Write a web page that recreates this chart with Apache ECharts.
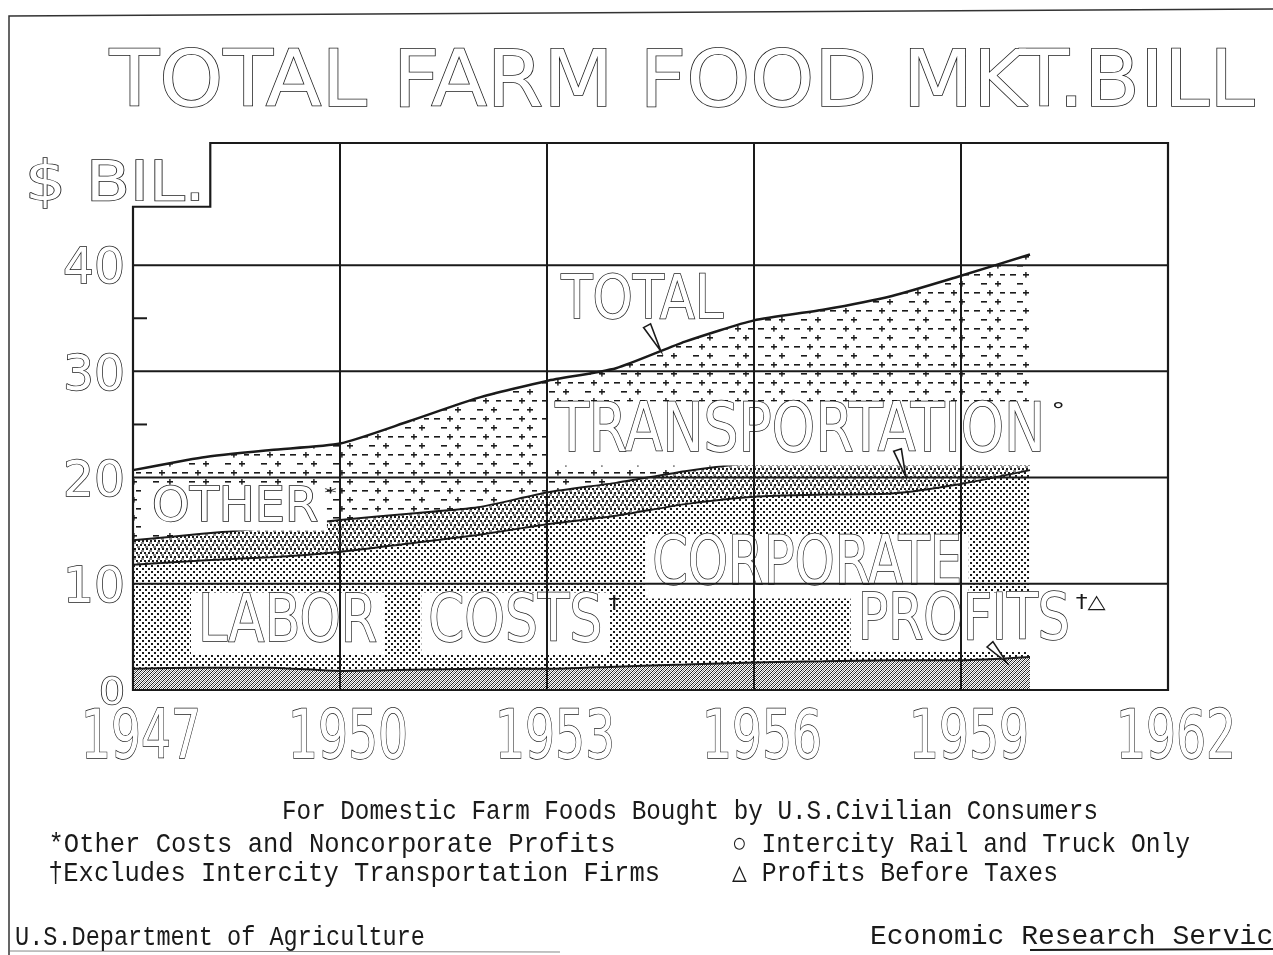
<!DOCTYPE html>
<html><head><meta charset="utf-8">
<script src="https://cdn.jsdelivr.net/npm/echarts@6/dist/echarts.min.js"></script>
<style>html,body{margin:0;padding:0;background:#fff;overflow:hidden}#c{width:1273px;height:955px}</style>
</head><body><div id="c"></div>
<script>
// ---- data (US$ billions) ----
const years     = [1947,1948,1949,1950,1951,1952,1953,1954,1955,1956,1957,1958,1959,1960];
const profits   = [2.0,2.1,2.1,1.8,1.9,2.0,2.0,2.2,2.4,2.6,2.7,2.8,2.8,3.1];
const labor     = [9.8,10.1,10.4,11.2,11.9,12.6,13.6,14.2,15.1,15.6,15.7,15.7,16.6,17.6];
const transport = [2.3,2.5,2.8,3.0,2.8,2.6,3.0,3.1,3.1,3.2,3.4,3.5,3.6,3.3];
const other     = [6.6,7.2,7.3,7.2,8.7,10.3,10.5,10.8,12.2,13.4,14.0,15.1,16.0,17.0];
const xTicks    = [1947,1950,1953,1956,1959,1962];
const yTicks    = [0,10,20,30,40];
const yMinorTicks = [25,35];
const Y_MAX = 51.5;

const NARROW = "'Liberation Sans Narrow','DejaVu Sans Condensed','Liberation Sans',sans-serif";
const MONO = "'Liberation Mono','DejaVu Sans Mono',monospace";
const INK = '#1a1a1a';

// axis categories: every year from first to last tick
const cats = [];
for (let y = xTicks[0]; y <= xTicks[xTicks.length-1]; y++) cats.push(String(y));
const onCats = vals => cats.map(c => { const i = years.indexOf(+c); return i < 0 ? null : vals[i]; });

function pattern(w,h,draw){const c=document.createElement('canvas');c.width=w;c.height=h;const g=c.getContext('2d');g.fillStyle=INK;draw(g);return {image:c,repeat:'repeat'};}
const patProfits = pattern(4,4,g=>{for(let i=0;i<4;i++){g.fillRect(i,3-i,1,1);} g.fillStyle='rgba(0,0,0,0.45)';for(let i=0;i<4;i++){g.fillRect(i,(5-i)%4,1,1);} });
const patLabor = pattern(6,6,g=>{g.fillRect(1,1,2,2);g.fillRect(4,4,2,2);});
const patTransport = pattern(8,8,g=>{g.fillRect(0,0,2,2);g.fillRect(4,0,2,2);g.fillRect(2,4,2,2);g.fillRect(6,4,2,2);g.fillRect(1,2.5,3,1);g.fillRect(5,6.5,3,1);});
const patOther = pattern(36,18,g=>{g.fillRect(2,4,6,1.6);g.fillRect(15,4,6,1.6);g.fillRect(17.2,2,1.4,5.6);g.fillRect(28,4,5,1.6);g.fillRect(9,13,6,1.6);g.fillRect(23,13,6,1.6);g.fillRect(25.2,11,1.4,5.6);});

function areaSeries(name, vals, pat, lw){
  return {name,type:'line',stack:'bill',data:onCats(vals),symbol:'none',smooth:0.2,connectNulls:false,
    lineStyle:{color:INK,width:lw},areaStyle:{color:pat,opacity:1},z:2,silent:true};
}
const chart = echarts.init(document.getElementById('c'),null,{renderer:'canvas'});
chart.setOption({
  backgroundColor:'#fff', animation:false,
  grid:{left:133,right:105,top:143,bottom:265,containLabel:false,outerBoundsMode:'none'},
  xAxis:{type:'category',data:cats,boundaryGap:false,
    axisLine:{show:false},axisTick:{show:false},axisLabel:{show:false},splitLine:{show:false}},
  yAxis:{type:'value',min:0,max:Y_MAX,interval:10,
    axisLine:{show:false},axisTick:{show:false},axisLabel:{show:false},splitLine:{show:false}},
  series:[
    areaSeries('Corporate profits',profits,patProfits,2),
    areaSeries('Labor costs',labor,patLabor,2),
    areaSeries('Transportation',transport,patTransport,2),
    areaSeries('Other',other,patOther,2.5)
  ]
});

// pixel helpers through the chart's own scales
const P0 = chart.convertToPixel({gridIndex:0},[cats[0],0]);
const P1 = chart.convertToPixel({gridIndex:0},[cats[cats.length-1],Y_MAX]);
const xa=xTicks[0], xb=xTicks[xTicks.length-1];
const xpx = yr => P0[0] + (yr - xa)/(xb-xa)*(P1[0]-P0[0]);
const ypx = v => chart.convertToPixel({yAxisIndex:0},v);
const px = (x,y)=>[xpx(x),ypx(y)];

const mc=document.createElement('canvas').getContext('2d');
function txt(str,cx,cy,w,capH,o={}){
  const fs=capH/(o.capRatio||0.79);
  const font=`${fs.toFixed(1)}px ${o.family||NARROW}`;
  mc.font=font;
  const mw=mc.measureText(str).width;
  const s=w?w/mw:1;
  const dy = o.noShift?0:0.13*capH;
  const st={text:str,font,fill:o.fill||'#fff',stroke:o.stroke===undefined?INK:o.stroke,lineWidth:o.lw||1.5,strokeNoScale:true,
    textAlign:'center',textVerticalAlign:'middle',align:'center',verticalAlign:'middle'};
  if(o.bg){const m=o.m||dy; st.backgroundColor=o.bg; st.lineHeight=capH; st.padding=[dy+m,o.padX||8,Math.max(0,m-dy),o.padX||8];}
  return {type:'text',x:cx,y:cy+dy,scaleX:s,scaleY:1,z:o.z||5,silent:true,style:st};
}
const G=[];
// page border
G.push({type:'polyline',z:30,silent:true,shape:{points:[[9,955],[9,16],[1273,9]]},style:{stroke:'#333',lineWidth:1.5,fill:null}});
G.push({type:'line',z:30,silent:true,shape:{x1:10,y1:951,x2:560,y2:952},style:{stroke:'#888',lineWidth:1}});
G.push({type:'line',z:30,silent:true,shape:{x1:1030,y1:950,x2:1273,y2:949},style:{stroke:INK,lineWidth:2}});
// grid lines at the tick values (drawn above the labels, as in the original)
yTicks.slice(1).forEach(v=>{const a=px(xa,v),b=px(xb,v);G.push({type:'line',z:8,silent:true,shape:{x1:a[0],y1:a[1],x2:b[0],y2:b[1]},style:{stroke:INK,lineWidth:2}});});
xTicks.slice(1,-1).forEach(t=>{const a=px(t,0),b=px(t,Y_MAX);G.push({type:'line',z:8,silent:true,shape:{x1:a[0],y1:a[1],x2:b[0],y2:b[1]},style:{stroke:INK,lineWidth:2}});});
// plot frame with notch for "$ BIL."
const notchX=1948.12, notchY=45.5;
const fr=[px(xa,0),px(xa,notchY),px(notchX,notchY),px(notchX,Y_MAX),px(xb,Y_MAX),px(xb,0)];
G.push({type:'polygon',z:25,silent:true,shape:{points:fr},style:{stroke:INK,lineWidth:2.2,fill:null}});
// minor ticks
yMinorTicks.forEach(v=>{const p=px(xa,v);G.push({type:'line',z:25,silent:true,shape:{x1:p[0],y1:p[1],x2:p[0]+14,y2:p[1]},style:{stroke:INK,lineWidth:2}});});
// tick labels (from tick arrays, positioned by the axes)
xTicks.forEach(t=>{
  const [x,y]=px(t,0);
  G.push(txt(String(t),x+8,y+43,120,54,{lw:1.4,z:9}));
});
yTicks.forEach(t=>{
  const [x,y]=px(xa,t); const s=String(t); const small=(t===0);
  const w=(small?26:31)*s.length;
  G.push(txt(s,x-8-w/2,y,w,small?30:40,{lw:1.4,z:9}));
});
// title & unit
G.push(txt('TOTAL FARM FOOD MKT.BILL',682,78,1145,62,{lw:1.4}));
G.push(txt('$ BIL.',115,180,180,44,{lw:1.4}));
// in-chart labels (data coords)
function label(main,sup,at,w,capH,bg,supW,m){
  const [cx,cy]=px(at[0],at[1]);
  G.push(txt(main,cx,cy,w,capH,{bg:bg?'#fff':undefined,m}));
  if(sup){const sc=capH*0.3;G.push(txt(sup,cx+w/2+6+supW/2,cy-capH/2+sc*0.7,supW,sc,{fill:INK,stroke:'none',z:6}));}
}
label('TOTAL',null,[1954.38,37.1],162,48,false);
label('TRANSPORTATION','°',[1956.67,24.8],490,54,true,14,3);
label('OTHER','*',[1948.48,17.6],166,38,true,13,2);
label('CORPORATE',null,[1956.77,12.3],310,54,true,0,3);
label('LABOR',null,[1949.24,6.9],179,52,true,0,3);
label('COSTS','†',[1952.54,6.9],174,52,true,12,3);
label('PROFITS','†△',[1959.04,7.0],212,50,true,30,3);
// pointer arrows
function arrow(tail,tip){
  const a=px(tail[0],tail[1]), b=px(tip[0],tip[1]);
  const dx=b[0]-a[0], dy=b[1]-a[1], L=Math.hypot(dx,dy), nx=-dy/L*4, ny=dx/L*4;
  G.push({type:'polygon',z:7,silent:true,shape:{points:[[a[0]+nx,a[1]+ny],[a[0]-nx,a[1]-ny],b]},style:{fill:'#fff',stroke:INK,lineWidth:1.6}});
}
arrow([1954.45,34.3],[1954.65,31.9]);
arrow([1958.08,22.6],[1958.2,20.1]);
arrow([1959.42,4.3],[1959.66,2.6]);
// footnotes
const FN={family:MONO,fill:INK,stroke:'none',capRatio:0.66,noShift:true,z:30};
G.push(txt('For Domestic Farm Foods Bought by U.S.Civilian Consumers',690,812,816,18,FN));
G.push(txt('*Other Costs and Noncorporate Profits',332,845,567,18,FN));
G.push(txt('○ Intercity Rail and Truck Only',961,845,458,18,FN));
G.push(txt('†Excludes Intercity Transportation Firms',354,874,612,18,FN));
G.push(txt('△ Profits Before Taxes',895,874,326,18,FN));
G.push(txt('U.S.Department of Agriculture',220,938,410,18,FN));
G.push(txt('Economic Research Service',1080,937,420,18,FN));
chart.setOption({graphic:G});
</script></body></html>
